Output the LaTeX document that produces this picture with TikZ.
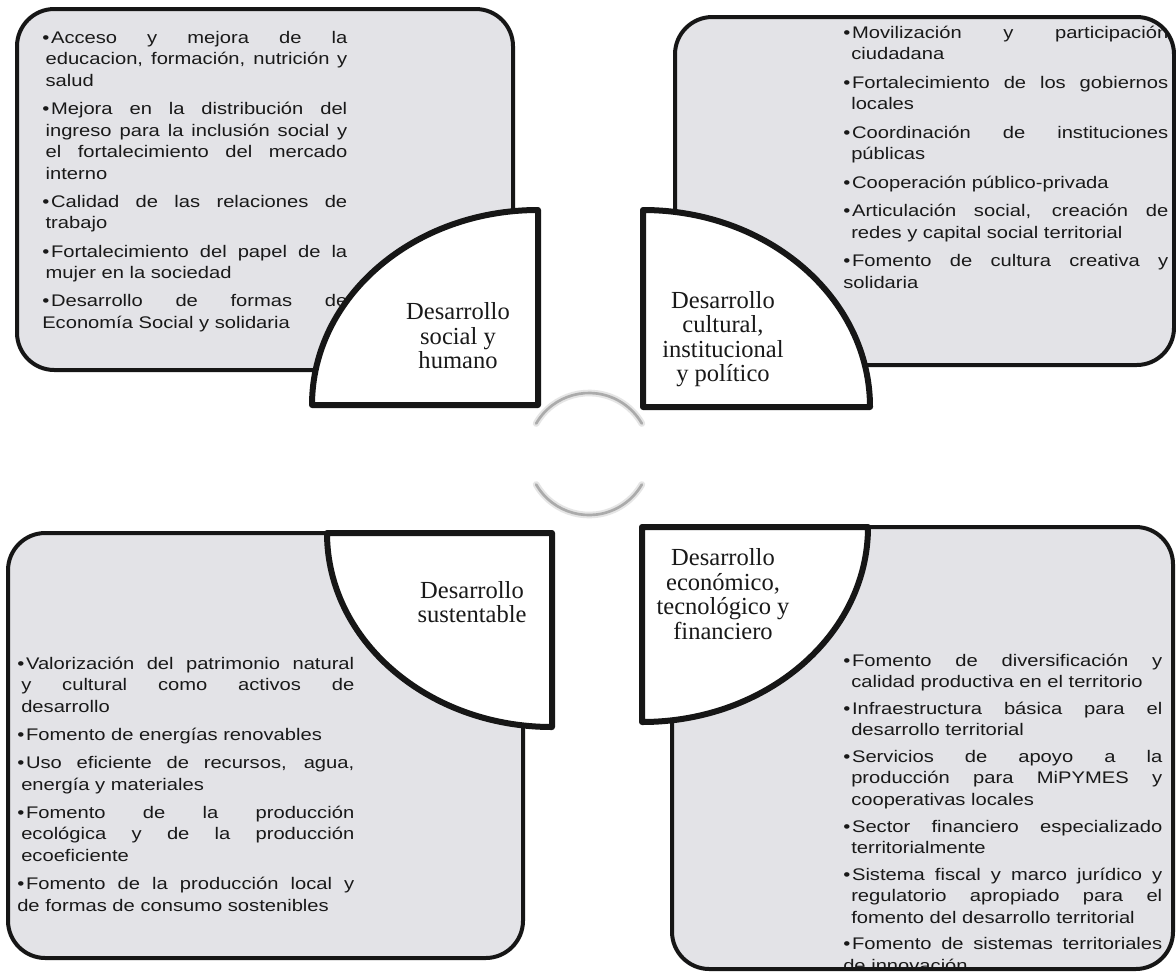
\documentclass[tikz,border=0pt]{standalone}
\usepackage{fontspec}
\newfontfamily\bodyf[FakeStretch=1.2]{Liberation Sans}
\newfontfamily\labf{Liberation Serif}
\definecolor{boxfill}{RGB}{227,227,231}
\definecolor{edge}{RGB}{22,22,22}
\newlength\itgap
\newlength\hng
\newcommand\bitem{\noindent\hangindent=\hng\hangafter=1\strut\makebox[6.6pt][l]{•}}
\newcommand\nitem{\par\vspace{\itgap}\bitem}
\newcommand\bodysetup{\bodyf\fontsize{12.6pt}{16.125pt}\selectfont\tolerance=10000\pretolerance=-1\hyphenpenalty=10000\exhyphenpenalty=10000}
\begin{document}
\begin{tikzpicture}[x=0.75pt,y=-0.75pt,
  panel/.style={fill=boxfill, draw=edge, line width=3pt, rounded corners=28pt},
  sector/.style={fill=white, draw=edge, line width=4.5pt, line join=round},
  bodytext/.style={anchor=north west, inner sep=0pt, align=justify, text width=#1, font=\bodysetup, text=black!90},
  lab/.style={align=center, inner sep=0pt, font=\labf\fontsize{18.4pt}{18.4pt}\selectfont, text=black!90},
  cycshadow/.style={draw=black!10, line width=5pt, line cap=round},
  cycline/.style={draw=black!33, line width=2pt, line cap=round}
]
\useasboundingbox[fill=white] (0,0) rectangle (1176,972);

% panels
\draw[panel] (17,9) rectangle (513,370);
\draw[panel] (675,17) rectangle (1174,365);
\draw[panel] (8,533) rectangle (523,958);
\draw[panel] (672,527) rectangle (1173,969);

% texts
\node[bodytext=228.75pt] (tlT) at (42,28) {\setlength\itgap{5.06pt}\setlength\hng{2.5pt}%
\bitem Acceso y mejora de la\linebreak educacion, formación, nutrición y\linebreak salud
\nitem Mejora en la distribución del\linebreak ingreso para la inclusión social y\linebreak el fortalecimiento del mercado\linebreak interno
\nitem Calidad de las relaciones de\linebreak trabajo
\nitem Fortalecimiento del papel de la\linebreak mujer en la sociedad
\nitem Desarrollo de formas de\linebreak Economía Social y solidaria};

\node[bodytext=243.75pt] (trT) at (843,23) {\setlength\itgap{5.25pt}\setlength\hng{6pt}%
\bitem Movilización y participación\linebreak ciudadana
\nitem Fortalecimiento de los gobiernos\linebreak locales
\nitem Coordinación de instituciones\linebreak públicas
\nitem Cooperación público-privada
\nitem Articulación social, creación de\linebreak redes y capital social territorial
\nitem Fomento de cultura creativa y\linebreak solidaria};

\node[bodytext=252.75pt] (blT) at (17,654) {\setlength\itgap{5pt}\setlength\hng{3pt}%
\bitem Valorización del patrimonio natural\linebreak y cultural como activos de\linebreak desarrollo
\nitem Fomento de energías renovables
\nitem Uso eficiente de recursos, agua,\linebreak energía y materiales
\nitem Fomento de la producción\linebreak ecológica y de la producción\linebreak ecoeficiente
\nitem Fomento de la producción local y\linebreak de formas de consumo sostenibles};

\begin{scope}
\clip (672,527) rectangle (1173,966);
\node[bodytext=239.25pt] (brT) at (843,651) {\setlength\itgap{3.8pt}\setlength\hng{6pt}%
\bitem Fomento de diversificación y\linebreak calidad productiva en el territorio
\nitem Infraestructura básica para el\linebreak desarrollo territorial
\nitem Servicios de apoyo a la\linebreak producción para MiPYMES y\linebreak cooperativas locales
\nitem Sector financiero especializado\linebreak territorialmente
\nitem Sistema fiscal y marco jurídico y\linebreak regulatorio apropiado para el\linebreak fomento del desarrollo territorial
\nitem Fomento de sistemas territoriales\linebreak de innovación};
\end{scope}

% quarter sectors
\draw[sector] (538,405) -- (312,405) .. controls (312,297.3) and (413.2,210) .. (538,210) -- cycle;
\draw[sector] (643,407) -- (643,210) .. controls (768.4,210) and (870,298.2) .. (870,407) -- cycle;
\draw[sector] (552,533) -- (327,533) .. controls (327,640.1) and (427.7,727) .. (552,727) -- cycle;
\draw[sector] (642,527) -- (868,527) .. controls (868,634.7) and (766.8,722) .. (642,722) -- cycle;

% labels
\node[lab] (tlL) at (458,336) {Desarrollo\\social y\\humano};
\node[lab] (trL) at (723,339) {Desarrollo\\cultural,\\institucional\\y político};
\node[lab] (blL) at (472,602) {Desarrollo\\sustentable};
\node[lab] (brL) at (723,594) {Desarrollo\\económico,\\tecnológico y\\financiero};

% central cycle arcs
\coordinate (ctr) at (589,454);
\draw[cycshadow] (ctr) ++(150:45.75pt) arc[start angle=150,end angle=30,radius=45.75pt];
\draw[cycshadow] (ctr) ++(210:45.75pt) arc[start angle=210,end angle=330,radius=45.75pt];
\draw[cycline] (ctr) ++(150:45.75pt) arc[start angle=150,end angle=30,radius=45.75pt];
\draw[cycline] (ctr) ++(210:45.75pt) arc[start angle=210,end angle=330,radius=45.75pt];
\end{tikzpicture}
\end{document}
